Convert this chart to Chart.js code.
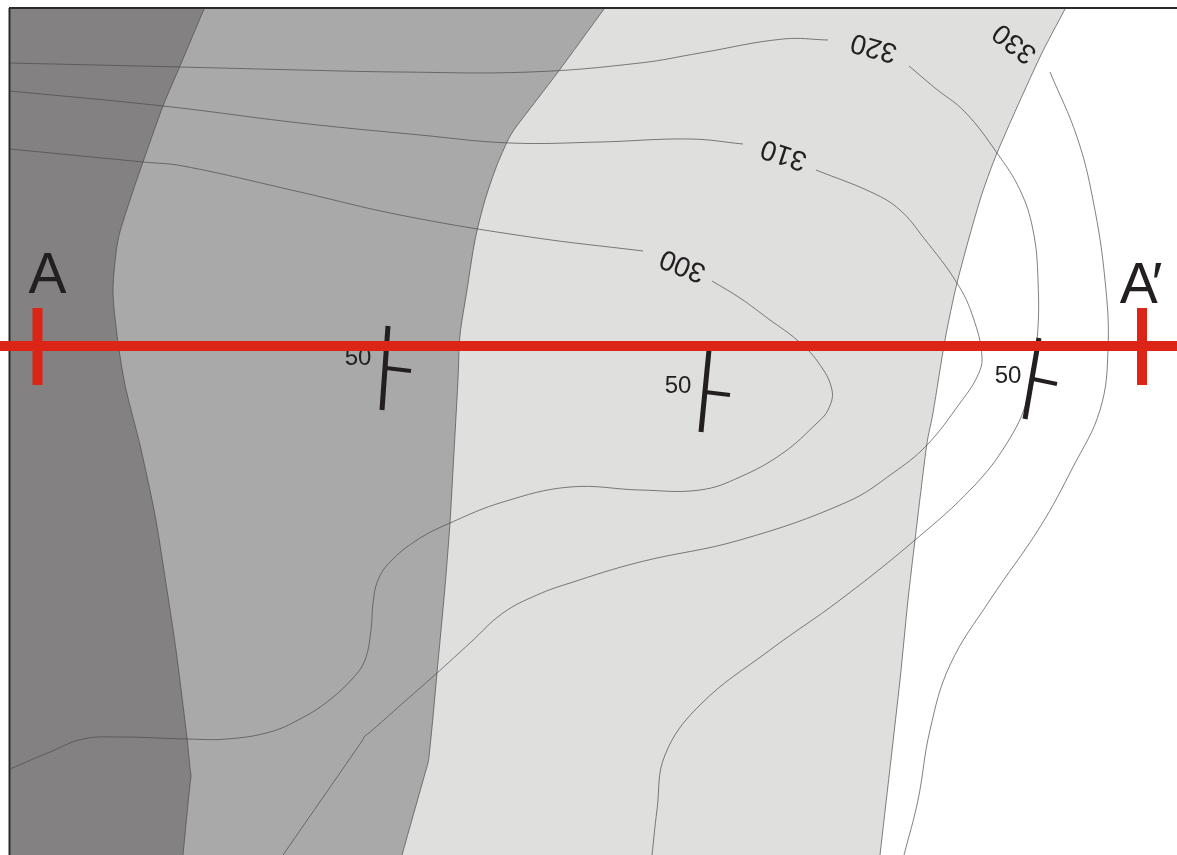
<!DOCTYPE html>
<html>
<head>
<meta charset="utf-8">
<style>html,body{margin:0;padding:0;background:#fff}canvas{display:block}</style>
<script src="https://cdn.jsdelivr.net/npm/chart.js@4/dist/chart.umd.min.js"></script>
</head>
<body>
<canvas id="c" width="1177" height="855"></canvas>
<script>
const unitBoundaryA = [[204,9],[180,66],[163,106],[143,162],[130,200],[118,240],[113,290],[117,335],[125,385],[140,445],[155,515],[167,590],[176,650],[187,738],[190,768],[191,776],[190,784],[183,855]];
const unitBoundaryB = [[604,9],[558,72],[516,127],[512,133],[508,140],[497,165],[485,200],[475,240],[467,290],[460,335],[458,380],[453,470],[450,523],[445,587],[437,673],[433,717],[429,757],[428,763],[426,770],[402,855]];
const unitBoundaryC = [[1065,9],[1040,57],[997,153],[980,200],[957,283],[945,340],[933,413],[927,443],[915,540],[908,600],[900,680],[880,855]];

const contour300West = [[10,149],[143,162],[183,166],[300,192],[400,215],[530,237],[643,251]];
const contour300East = [[712,281],[740,298],[770,320],[797,340],[818,362],[832,390],[828,410],[817,423],[783,453],[740,477],[700,490],[640,490],[570,487],[503,502],[450,523],[417,540],[390,562],[378,580],[373,603],[371,630],[365,660],[353,678],[327,702],[300,719],[270,732],[227,739],[187,739],[120,737],[83,739],[50,752],[10,769]];
const contour310West = [[10,91],[163,106],[300,123],[420,135],[510,143],[600,142],[690,139],[743,144]];
const contour310East = [[816,170],[873,193],[900,210],[923,237],[957,283],[973,317],[982,357],[977,377],[960,403],[927,445],[893,473],[847,502],[740,540],[640,562],[570,583],[537,595],[503,613],[470,643],[437,673],[403,703],[369,733],[365,736],[362,741],[283,855]];
const contour320West = [[10,63],[180,67],[300,70],[400,72],[530,72],[640,63],[700,53],[783,39],[828,40]];
const contour320East = [[909,66],[935,88],[965,112],[997,153],[1020,190],[1033,230],[1038,280],[1037,340],[1027,400],[1007,443],[973,487],[915,540],[840,600],[770,650],[700,705],[665,755],[657,810],[652,855]];
const contour330 = [[1050,72],[1077,137],[1093,200],[1105,280],[1108,350],[1100,410],[1073,467],[1040,527],[990,600],[950,665],[930,730],[918,800],[904,855]];

const sectionLine = [[0,346],[1177,346]];
const sectionTickA = [[37.5,308],[37.5,385]];
const sectionTickB = [[1142,308],[1142,385]];

const strike1 = [[388,326],[382,410]];
const dip1 = [[386,368],[411,371]];
const strike2 = [[709,350],[701,432]];
const dip2 = [[705,392],[730,395]];
const strike3 = [[1039,338],[1025,419]];
const dip3 = [[1033,379],[1057,384]];

const frameTop = [[9,8],[1177,8]];
const frameLeft = [[9.5,8],[9.5,855]];

const dipLabels = [["50",358,358],["50",678,386],["50",1008,376]];
const contourLabels = [["300",683,265,202],["310",784,154,198],["320",874,47,195],["330",1015,43,218]];
const sectionLabels = [["A",47.5,277,"0px"],["A\u2032",1138,287,"-6px"]];

const pts = a => a.map(([x,y]) => ({x,y}));
const DARK = '#838182', MID = '#a9a9a9', LIGHT = '#dfdfde', RED = '#dd2517', INK = '#231f20', THIN = '#4c4a4a';

const unit = (d,c,o) => ({data:pts(d),borderColor:THIN,borderWidth:0.7,backgroundColor:c,fill:{value:9},tension:0.25,order:o});
const line = (d,c,w,o,t) => ({data:pts(d),borderColor:c,borderWidth:w,fill:false,tension:t||0,order:o,borderCapStyle:'butt'});

const datasets = [
  line(sectionLine,RED,10,1),
  line(sectionTickA,RED,10,1),
  line(sectionTickB,RED,10,1),
  line(strike1,INK,5,2), line(dip1,INK,4,2),
  line(strike2,INK,5,2), line(dip2,INK,4,2),
  line(strike3,INK,5,2), line(dip3,INK,4,2),
  line(contour300West,THIN,0.7,3,0.4), line(contour300East,THIN,0.7,3,0.4),
  line(contour310West,THIN,0.7,3,0.4), line(contour310East,THIN,0.7,3,0.4),
  line(contour320West,THIN,0.7,3,0.4), line(contour320East,THIN,0.7,3,0.4),
  line(contour330,THIN,0.7,3,0.4),
  line(frameTop,'#2d2a2a',2,4),
  line(frameLeft,'#2d2a2a',2,4),
  unit(unitBoundaryA,DARK,5),
  unit(unitBoundaryB,MID,6),
  unit(unitBoundaryC,LIGHT,7)
];

const textPlugin = {
  id:'mapText',
  beforeDatasetDraw(chart,args){
    if(args.index!==3) return;
    const {ctx,scales:{x,y}} = chart;
    ctx.save();
    ctx.fillStyle = INK;
    ctx.textAlign='center';
    ctx.textBaseline='middle';
    ctx.font = '24px "Liberation Sans"';
    dipLabels.forEach(([t,px,py])=>ctx.fillText(t,x.getPixelForValue(px),y.getPixelForValue(py)));
    ctx.font = '28px "Liberation Sans"';
    contourLabels.forEach(([t,px,py,r])=>{
      ctx.save();
      ctx.translate(x.getPixelForValue(px),y.getPixelForValue(py));
      ctx.rotate(r*Math.PI/180);
      ctx.fillText(t,0,0);
      ctx.restore();
    });
    ctx.font = '57px "Liberation Sans"';
    sectionLabels.forEach(([t,px,py,sp])=>{
      ctx.letterSpacing = sp;
      ctx.fillText(t,x.getPixelForValue(px),y.getPixelForValue(py));
    });
    ctx.restore();
  }
};

new Chart(document.getElementById('c'),{
  type:'line',
  data:{datasets},
  plugins:[textPlugin],
  options:{
    indexAxis:'y',
    responsive:false,
    animation:false,
    events:[],
    layout:{padding:0},
    elements:{point:{radius:0}},
    scales:{
      x:{type:'linear',min:0,max:1177,display:false},
      y:{type:'linear',min:0,max:855,reverse:true,display:false}
    },
    plugins:{legend:{display:false},tooltip:{enabled:false},title:{display:false}}
  }
});
</script>
</body>
</html>
